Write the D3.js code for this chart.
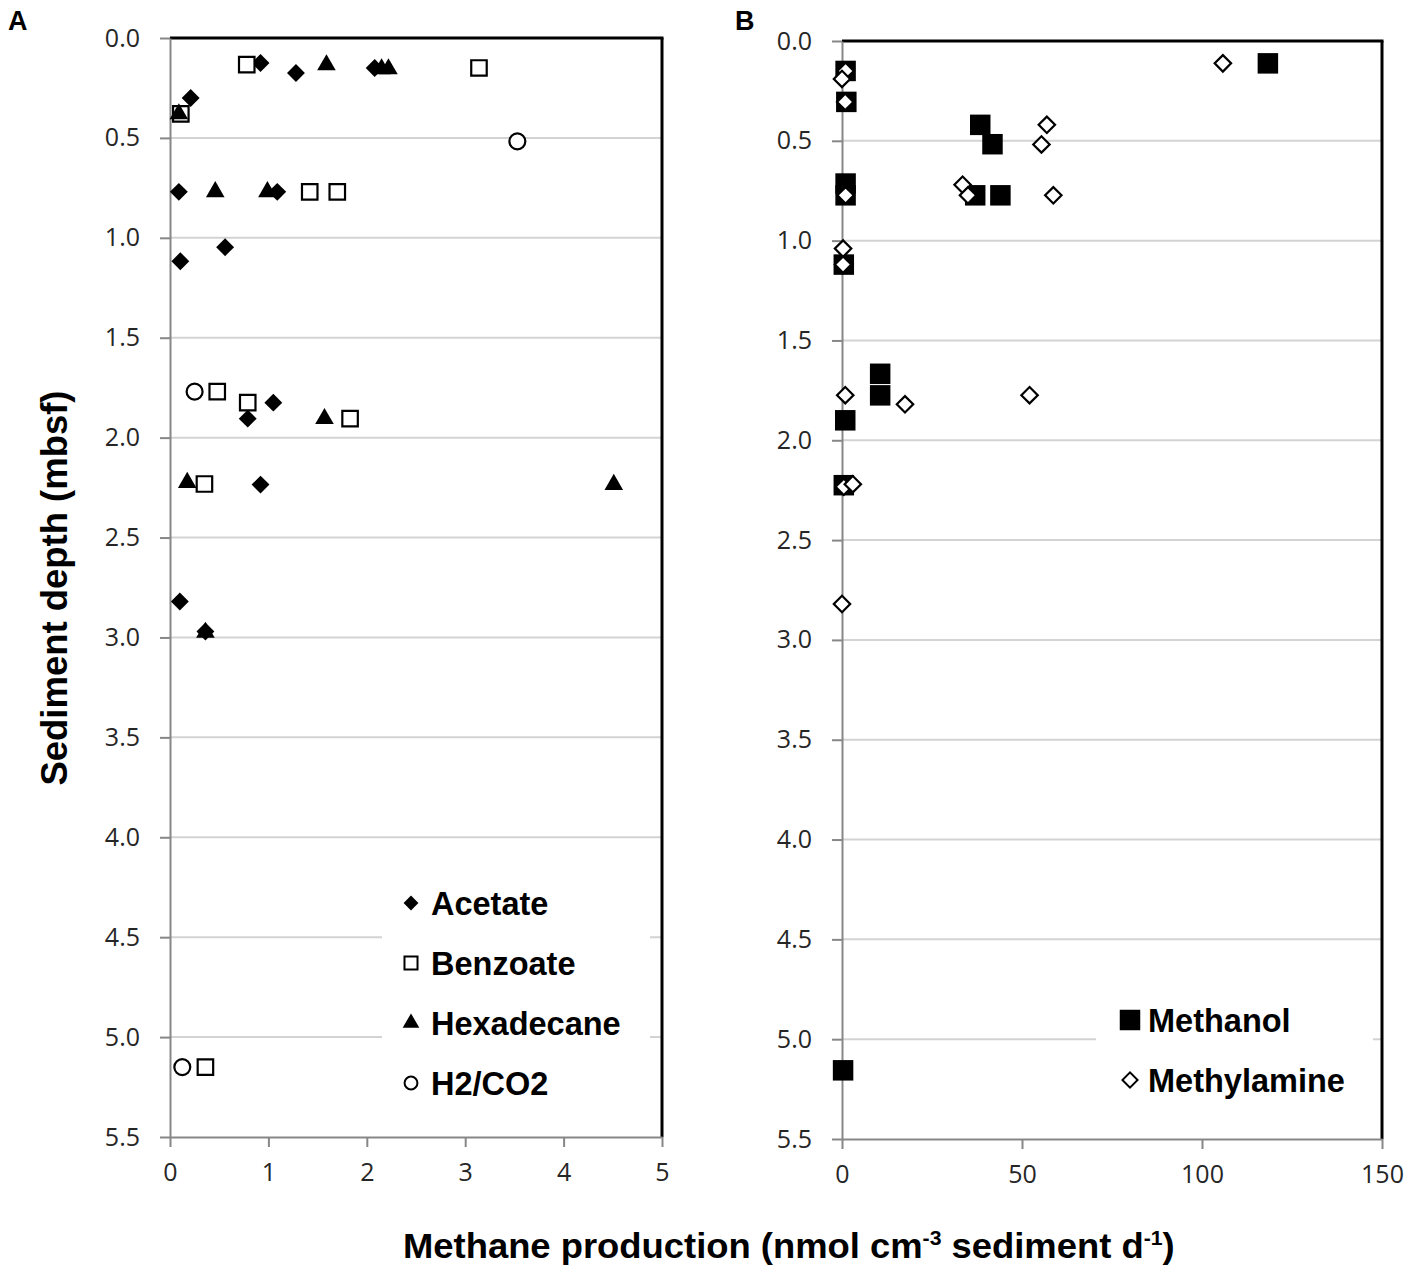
<!DOCTYPE html>
<html>
<head>
<meta charset="utf-8">
<script src="https://cdn.jsdelivr.net/npm/d3@7"></script>
<style>
  body { margin: 0; background: #fff; }
  .tick text { font-family: 'Open Sans', 'Noto Sans', sans-serif; font-size: 25px; fill: #262626; }
  .title { font-family: 'Liberation Sans', Arial, sans-serif; font-weight: bold; fill: #000; }
  .legend text { font-family: 'Liberation Sans', Arial, sans-serif; font-weight: bold; font-size: 32.5px; fill: #000; }
</style>
</head>
<body>
<div class="chart"></div>
<script>
// Panel A series: [methane production, depth]
const acetate = [[0.92,0.125],[1.28,0.175],[0.21,0.30],[2.08,0.15],[0.09,0.77],[1.09,0.77],
  [0.56,1.047],[0.105,1.117],[1.05,1.825],[0.79,1.905],[0.92,2.235],[0.10,2.82],[0.36,2.97]];
const benzoate = [[0.78,0.133],[3.14,0.15],[0.11,0.38],[1.42,0.77],[1.70,0.77],[0.48,1.77],
  [0.79,1.825],[1.83,1.905],[0.35,2.232],[0.36,5.15]];
const hexadecane = [[1.59,0.135],[2.15,0.155],[2.22,0.155],[0.09,0.38],[0.46,0.77],[0.99,0.77],
  [1.57,1.905],[0.175,2.225],[4.51,2.235],[0.36,2.975]];
const h2co2 = [[3.53,0.517],[0.25,1.77],[0.125,5.15]];

// Panel B series
const methanol = [[118.3,0.112],[1.0,0.15],[1.2,0.305],[38.4,0.42],[41.8,0.517],[1.0,0.714],
  [1.0,0.773],[37,0.773],[44,0.773],[0.5,1.12],[10.6,1.667],[10.6,1.775],[0.9,1.90],[0.5,2.225],[0.3,5.156]];
const methylamine = [[105.8,0.112],[1.0,0.15],[0.0,0.19],[0.9,0.305],[56.9,0.42],[55.4,0.518],
  [33.5,0.72],[35,0.773],[1.0,0.773],[58.7,0.773],[0.3,1.04],[0.3,1.12],[0.9,1.774],[17.5,1.82],
  [52.1,1.774],[0.5,2.233],[3,2.22],[0,2.82]];

// ticks
const depthTicks = [0,0.5,1,1.5,2,2.5,3,3.5,4,4.5,5,5.5];
const xTicksA = [0,1,2,3,4,5];
const xTicksB = [0,50,100,150];

const legendA = ['Acetate','Benzoate','Hexadecane','H2/CO2'];
const legendB = ['Methanol','Methylamine'];

const W = 1413, H = 1277;
const svg = d3.select('.chart').append('svg').attr('width', W).attr('height', H)
  .style('background', '#fff');

// marker styles
const mk = {
  diamond: { type: d3.symbolSquare, rot: 45, fill: '#000', stroke: 'none' },
  square: { type: d3.symbolSquare, rot: 0, fill: '#fff', stroke: '#000' },
  triangle: { type: d3.symbolTriangle, rot: 0, fill: '#000', stroke: 'none' },
  circle: { type: d3.symbolCircle, rot: 0, fill: '#fff', stroke: '#000' },
  bsquare: { type: d3.symbolSquare, rot: 0, fill: '#000', stroke: 'none' },
  odiamond: { type: d3.symbolSquare, rot: 45, fill: '#fff', stroke: '#000' }
};

function drawPanel(opt) {
  const x = d3.scaleLinear().domain(opt.xDomain).range([opt.left, opt.right]);
  const y = d3.scaleLinear().domain([0, 5.5]).range([opt.top, opt.bottom]);
  const g = svg.append('g');

  // gridlines
  g.append('g').selectAll('line').data(depthTicks.filter(d => d > 0 && d < 5.5)).join('line')
    .attr('x1', opt.left).attr('x2', opt.right)
    .attr('y1', d => y(d)).attr('y2', d => y(d))
    .attr('stroke', '#d3d3d3').attr('stroke-width', 2);

  // legend background hides the gridlines
  g.append('rect').attr('x', opt.legBox[0]).attr('y', opt.legBox[1])
    .attr('width', opt.legBox[2]).attr('height', opt.legBox[3]).attr('fill', '#fff');

  // frame top and right
  g.append('line').attr('x1', opt.left).attr('x2', opt.right + 1.5)
    .attr('y1', opt.top).attr('y2', opt.top).attr('stroke', '#000').attr('stroke-width', 3);
  g.append('line').attr('x1', opt.right).attr('x2', opt.right)
    .attr('y1', opt.top).attr('y2', opt.bottom).attr('stroke', '#000').attr('stroke-width', 3);

  const yAxis = d3.axisLeft(y).tickValues(depthTicks).tickSize(10).tickSizeOuter(0)
    .tickPadding(20).tickFormat(d3.format('.1f'));
  const yg = g.append('g').attr('transform', `translate(${opt.left},0)`).call(yAxis);
  const xAxis = d3.axisBottom(x).tickValues(opt.xTicks).tickSize(10).tickSizeOuter(0)
    .tickPadding(16).tickFormat(d3.format('d'));
  const xg = g.append('g').attr('transform', `translate(0,${opt.bottom})`).call(xAxis);
  [yg, xg].forEach(a => {
    a.selectAll('path, line').attr('stroke', '#878787').attr('stroke-width', 2);
  });

  // points
  opt.series.forEach(s => {
    const m = mk[s.marker];
    g.append('g').selectAll('path').data(s.data).join('path')
      .attr('d', d3.symbol(m.type, s.size))
      .attr('transform', d => `translate(${x(d[0])},${y(d[1])}) rotate(${m.rot})`)
      .attr('fill', m.fill).attr('stroke', m.stroke).attr('stroke-width', 2.2);
  });

  // legend
  const lg = g.append('g').attr('class', 'legend');
  opt.series.forEach((s, i) => {
    const m = mk[s.marker];
    const cy = opt.legY + i * 60;
    lg.append('path').attr('d', d3.symbol(m.type, s.legSize))
      .attr('transform', `translate(${opt.legX},${cy}) rotate(${m.rot})`)
      .attr('fill', m.fill).attr('stroke', m.stroke).attr('stroke-width', 2);
    lg.append('text').attr('x', opt.legX + opt.legGap).attr('y', cy).attr('dy', '0.36em')
      .text(opt.names[i]);
  });
}

drawPanel({
  left: 170, right: 662, top: 38, bottom: 1137,
  xDomain: [0, 5], xTicks: xTicksA,
  legBox: [382, 872, 268, 236], legX: 411, legY: 903, legGap: 20,
  names: legendA,
  series: [
    { data: acetate, marker: 'diamond', size: 160, legSize: 110 },
    { data: benzoate, marker: 'square', size: 240, legSize: 170 },
    { data: hexadecane, marker: 'triangle', size: 150, legSize: 120 },
    { data: h2co2, marker: 'circle', size: 200, legSize: 130 }
  ]
});

drawPanel({
  left: 842, right: 1382, top: 41, bottom: 1139,
  xDomain: [0, 150], xTicks: xTicksB,
  legBox: [1096, 990, 277, 120], legX: 1130, legY: 1020, legGap: 18,
  names: legendB,
  series: [
    { data: methanol, marker: 'bsquare', size: 420, legSize: 420 },
    { data: methylamine, marker: 'odiamond', size: 135, legSize: 115 }
  ]
});

// panel letters
svg.append('text').attr('x', 8).attr('y', 30).text('A')
  .style('font-family', 'Liberation Sans, Arial, sans-serif').style('font-weight', 'bold').style('font-size', '27px');
svg.append('text').attr('x', 735).attr('y', 30).text('B')
  .style('font-family', 'Liberation Sans, Arial, sans-serif').style('font-weight', 'bold').style('font-size', '27px');

// y title (narrow bold look)
svg.append('text').attr('class', 'title')
  .attr('transform', 'translate(67,588) rotate(-90)')
  .attr('text-anchor', 'middle').style('font-size', '36px')
  .attr('textLength', 395).attr('lengthAdjust', 'spacingAndGlyphs')
  .text('Sediment depth (mbsf)');

// x title with superscripts
const xt = svg.append('text').attr('class', 'title').attr('x', 403).attr('y', 1258)
  .style('font-size', '36px');
xt.append('tspan').text('Methane production (nmol cm');
xt.append('tspan').attr('dy', -13).style('font-size', '21px').text('-3');
xt.append('tspan').attr('dy', 13).text(' sediment d');
xt.append('tspan').attr('dy', -13).style('font-size', '21px').text('-1');
xt.append('tspan').attr('dy', 13).text(')');
const bb = xt.node().getBBox();
xt.attr('transform', `translate(403,0) scale(${772 / bb.width},1) translate(-403,0)`);
</script>
</body>
</html>
